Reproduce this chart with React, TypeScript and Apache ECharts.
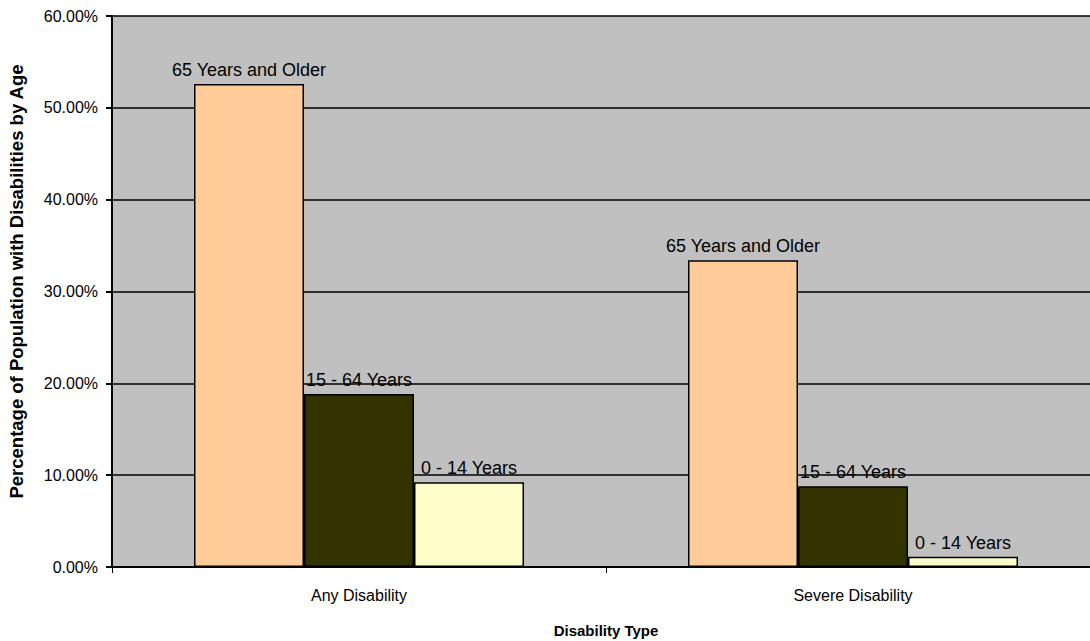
import React, { useEffect, useRef } from "react";
import * as echarts from "echarts";

const categories = ["Any Disability", "Severe Disability"];
const seriesNames = ["65 Years and Older", "15 - 64 Years", "0 - 14 Years"];
const older65 = [52.6, 33.4];
const working15to64 = [18.85, 8.8];
const children0to14 = [9.22, 1.12];
const seriesColors = ["#FFCC99", "#333300", "#FFFFCC"];
const yTicks = [0, 10, 20, 30, 40, 50, 60];

export default function App() {
  const ref = useRef<HTMLDivElement>(null);
  useEffect(() => {
    if (!ref.current) return;
    const chart = echarts.init(ref.current, null, { renderer: "svg" });
    const font = "'Liberation Sans', Arial, sans-serif";
    const values = [older65, working15to64, children0to14];
    chart.setOption({
      animation: false,
      backgroundColor: "#ffffff",
      textStyle: { fontFamily: font },
      grid: {
        left: 112,
        top: 16,
        width: 988,
        bottom: 74,
        containLabel: false,
        outerBoundsMode: "none",
        backgroundColor: "#c0c0c0",
        show: true,
        borderWidth: 0,
      },
      xAxis: {
        type: "category",
        data: categories,
        name: "Disability Type",
        nameLocation: "middle",
        nameGap: 56,
        nameTextStyle: { fontFamily: font, fontSize: 15, fontWeight: "bold", color: "#000" },
        axisLine: { lineStyle: { color: "#000", width: 2 } },
        axisTick: { show: true, length: 6, lineStyle: { color: "#000", width: 1 } },
        axisLabel: { fontFamily: font, fontSize: 16, color: "#000", margin: 20 },
      },
      yAxis: {
        type: "value",
        min: yTicks[0],
        max: yTicks[yTicks.length - 1],
        interval: 10,
        name: "Percentage of Population with Disabilities by Age",
        nameLocation: "middle",
        nameGap: 86,
        nameTextStyle: { fontFamily: font, fontSize: 18.5, fontWeight: "bold", color: "#000", padding: [0, 0, 0, 20] },
        axisLine: { show: true, lineStyle: { color: "#000", width: 2 } },
        axisTick: { show: true, length: 6, lineStyle: { color: "#000", width: 2 } },
        axisLabel: { fontFamily: font, fontSize: 16, color: "#000", margin: 14, formatter: (v: number) => v.toFixed(2) + "%" },
        splitLine: { show: true, lineStyle: { color: "#000", width: 1.5 } },
      },
      series: seriesNames.map((name, i) => ({
        name,
        type: "bar",
        data: values[i],
        barWidth: 110,
        barGap: "0%",
        itemStyle: { color: seriesColors[i], borderColor: "#000", borderWidth: 1.5 },
        label: {
          show: true,
          position: "top",
          distance: 5,
          formatter: name,
          fontFamily: font,
          fontSize: 18,
          color: "#000",
        },
      })),
    });
    return () => chart.dispose();
  }, []);
  return <div ref={ref} style={{ position: "fixed", left: 0, top: 0, width: 1090, height: 641 }} />;
}
